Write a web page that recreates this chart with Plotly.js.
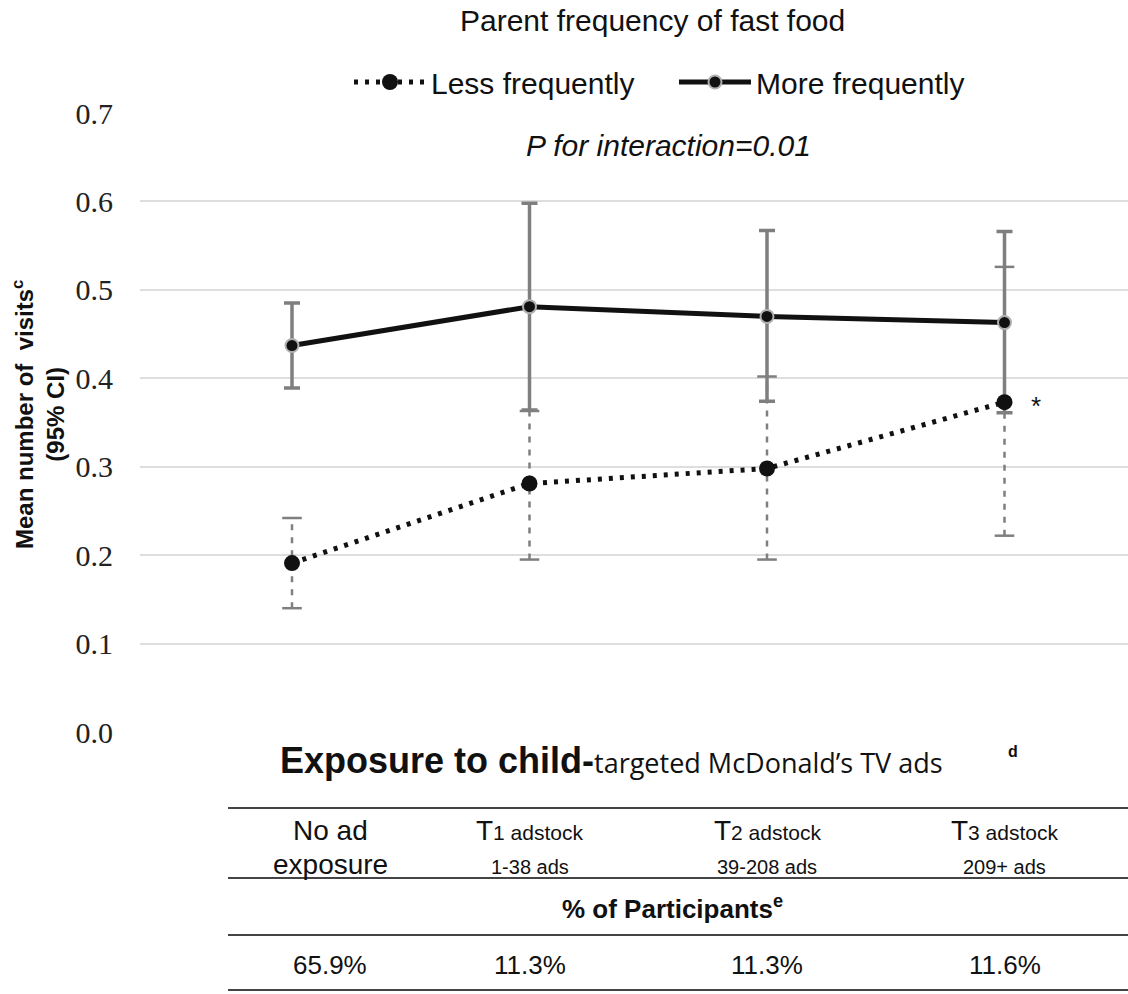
<!DOCTYPE html>
<html>
<head>
<meta charset="utf-8">
<script src="https://cdn.plot.ly/plotly-3.0.1.min.js"></script>
<style>html,body{margin:0;padding:0;background:#fff;}#chart{width:1128px;height:994px;}</style>
</head>
<body>
<div id="chart"></div>
<script>
// ---- data ----
const categories = [0, 1, 2, 3]; // No ad exposure, T1, T2, T3
const lessMean = [0.191, 0.281, 0.298, 0.373];
const lessLow  = [0.140, 0.195, 0.195, 0.222];
const lessHigh = [0.242, 0.363, 0.402, 0.526];
const moreMean = [0.437, 0.481, 0.470, 0.463];
const moreLow  = [0.389, 0.364, 0.374, 0.361];
const moreHigh = [0.485, 0.598, 0.567, 0.566];
const yTicks = [0.0, 0.1, 0.2, 0.3, 0.4, 0.5, 0.6, 0.7];
const yTickLabels = ['0.0', '0.1', '0.2', '0.3', '0.4', '0.5', '0.6', '0.7'];
const headRow1 = ['No ad', 'T<span style="font-size:21px">1 adstock</span>', 'T<span style="font-size:21px">2 adstock</span>', 'T<span style="font-size:21px">3 adstock</span>'];
const headRow2 = ['exposure', '1-38 ads', '39-208 ads', '209+ ads'];
const participants = ['65.9%', '11.3%', '11.3%', '11.6%'];

// ---- layout helpers ----
const plotTop = 113, plotBottom = 732, plotH = plotBottom - plotTop;
const py = p => (plotBottom - p) / plotH; // pixel y -> paper y
const plotLeft = 140, plotW = 1128 - plotLeft;
const px = p => (p - plotLeft) / plotW;
const colX = [0.16, 1.0, 2.0, 3.0];
const grey = '#7f7f7f';
const sans = 'Liberation Sans, Arial, sans-serif';

// dashed CI segments for the "less" series
const segX = [], segY = [];
categories.forEach((c, i) => { segX.push(c, c, null); segY.push(lessLow[i], lessHigh[i], null); });
const capX = [], capY = [];
categories.forEach((c, i) => { capX.push(c, c); capY.push(lessLow[i], lessHigh[i]); });

const traces = [
  {x: segX, y: segY, mode: 'lines', line: {color: grey, width: 2.5, dash: '6px,7px'}, showlegend: false, hoverinfo: 'skip'},
  {x: capX, y: capY, mode: 'markers', marker: {symbol: 'line-ew', size: 14, line: {color: grey, width: 2.5}}, showlegend: false, hoverinfo: 'skip'},
  {x: categories, y: moreMean, name: 'More frequently', legendrank: 2, mode: 'lines+markers',
   line: {color: '#111', width: 5}, marker: {color: '#111', size: 13, line: {color: '#b0b0b0', width: 2}},
   error_y: {type: 'data', symmetric: false,
     array: moreHigh.map((h, i) => h - moreMean[i]), arrayminus: moreMean.map((m, i) => m - moreLow[i]),
     color: grey, thickness: 3.5, width: 8}},
  {x: categories, y: lessMean, name: 'Less frequently', legendrank: 1, mode: 'lines+markers',
   line: {color: '#111', width: 5, dash: '4px,7px'}, marker: {color: '#111', size: 16}}
];

const ann = [];
ann.push({xref: 'paper', yref: 'paper', x: px(652), y: py(20), text: 'Parent frequency of fast food', showarrow: false,
  font: {family: sans, size: 30, color: '#111'}, xanchor: 'center', yanchor: 'middle'});
ann.push({xref: 'paper', yref: 'paper', x: px(668), y: py(145), text: '<i>P for interaction=0.01</i>', showarrow: false,
  font: {family: sans, size: 30, color: '#111'}, xanchor: 'center', yanchor: 'middle'});
ann.push({xref: 'x', yref: 'y', x: categories[3], y: lessMean[3], xshift: 31, yshift: -4, text: '*', showarrow: false,
  font: {family: sans, size: 26, color: '#111'}});
ann.push({xref: 'paper', yref: 'paper', x: px(38), y: py(415), textangle: -90,
  text: '<b>Mean number of  visits<sup>c</sup><br>(95% CI)</b>', showarrow: false,
  font: {family: sans, size: 24, color: '#111'}, xanchor: 'center', yanchor: 'middle'});
ann.push({xref: 'paper', yref: 'paper', x: px(278), y: py(760),
  text: '<b>Exposure to child-</b><span style="font-family:\'Open Sans\'; font-size:27px">targeted McDonald\u2019s TV ads</span>', showarrow: false,
  font: {family: sans, size: 36, color: '#111'}, xanchor: 'left', yanchor: 'middle'});
ann.push({xref: 'paper', yref: 'paper', x: px(1013), y: py(751), text: '<b>d</b>', showarrow: false,
  font: {family: sans, size: 16, color: '#111'}, xanchor: 'center', yanchor: 'middle'});
colX.forEach((cx, i) => {
  ann.push({xref: 'x', yref: 'paper', x: cx, y: py(830), text: headRow1[i], showarrow: false,
    font: {family: sans, size: 28, color: '#111'}, xanchor: 'center', yanchor: 'middle'});
  ann.push({xref: 'x', yref: 'paper', x: cx, y: py(i === 0 ? 864 : 867), text: headRow2[i], showarrow: false,
    font: {family: sans, size: i === 0 ? 28 : 20, color: '#111'}, xanchor: 'center', yanchor: 'middle'});
  ann.push({xref: 'x', yref: 'paper', x: cx, y: py(965), text: participants[i], showarrow: false,
    font: {family: sans, size: 26, color: '#111'}, xanchor: 'center', yanchor: 'middle'});
});
ann.push({xref: 'paper', yref: 'paper', x: px(672), y: py(907), text: '<b>% of Participants<sup>e</sup></b>', showarrow: false,
  font: {family: sans, size: 26, color: '#111'}, xanchor: 'center', yanchor: 'middle'});

const shapes = [808, 878, 935, 990].map(p => ({type: 'line', xref: 'paper', yref: 'paper',
  x0: px(228), x1: 1, y0: py(p), y1: py(p), line: {color: '#444', width: 2}}));

const layout = {
  width: 1128, height: 994,
  margin: {l: plotLeft, r: 0, t: plotTop, b: 994 - plotBottom},
  paper_bgcolor: '#fff', plot_bgcolor: '#fff',
  showlegend: true,
  legend: {orientation: 'h', x: px(349), xanchor: 'left', y: py(82), yanchor: 'middle',
    itemwidth: 72, entrywidth: 238, entrywidthmode: 'pixels',
    font: {family: sans, size: 30, color: '#111'}, bgcolor: 'rgba(0,0,0,0)'},
  xaxis: {range: [-0.64, 3.52], showticklabels: false, showgrid: false, zeroline: false, showline: false, ticks: ''},
  yaxis: {range: [0, 0.7], tickvals: yTicks, ticktext: yTickLabels, showgrid: true, gridcolor: '#dedede', gridwidth: 2,
    zeroline: false, showline: false, ticks: '', ticklabelstandoff: 26,
    tickfont: {family: 'Liberation Serif, Times New Roman, serif', size: 30, color: '#222'}},
  annotations: ann,
  shapes: shapes
};

Plotly.newPlot('chart', traces, layout, {displayModeBar: false, staticPlot: true});
</script>
</body>
</html>
